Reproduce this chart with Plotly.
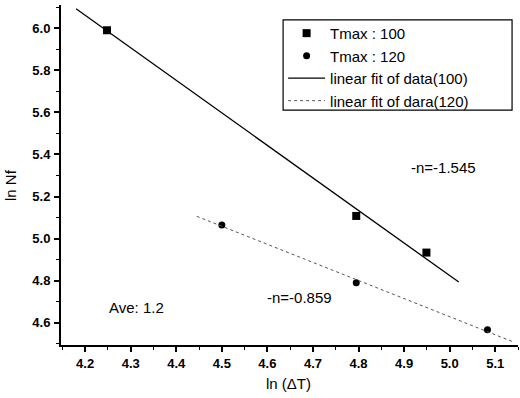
import numpy as np
import plotly.graph_objects as go

# ln(ΔT) and ln(Nf) for the two peak temperatures
x_t100 = [4.248, 4.795, 4.949]
y_t100 = [5.990, 5.108, 4.934]
x_t120 = [4.500, 4.795, 5.083]
y_t120 = [5.065, 4.791, 4.567]

# fitted slopes (Coffin-Manson exponent) and the x-span of each fit line
slope_t100 = -1.545
slope_t120 = -0.859
fit_span_t100 = [4.18, 5.02]
fit_span_t120 = [4.445, 5.14]

x_ticks = [4.2, 4.3, 4.4, 4.5, 4.6, 4.7, 4.8, 4.9, 5.0, 5.1]
y_ticks = [4.6, 4.8, 5.0, 5.2, 5.4, 5.6, 5.8, 6.0]


def fit_line(xs, ys, slope, span):
    xm, ym = np.mean(xs), np.mean(ys)
    fx = np.array(span)
    return fx, ym + slope * (fx - xm)


fx100, fy100 = fit_line(x_t100, y_t100, slope_t100, fit_span_t100)
fx120, fy120 = fit_line(x_t120, y_t120, slope_t120, fit_span_t120)

FONT = "Liberation Sans, Arial, sans-serif"

fig = go.Figure()
fig.add_trace(go.Scatter(x=x_t100, y=y_t100, mode="markers", name="Tmax : 100",
                         marker=dict(symbol="square", size=8, color="black")))
fig.add_trace(go.Scatter(x=x_t120, y=y_t120, mode="markers", name="Tmax : 120",
                         marker=dict(symbol="circle", size=7, color="black")))
fig.add_trace(go.Scatter(x=fx100, y=fy100, mode="lines", name="linear fit of data(100)",
                         line=dict(color="black", width=1.3)))
fig.add_trace(go.Scatter(x=fx120, y=fy120, mode="lines", name="linear fit of dara(120)",
                         line=dict(color="#555555", width=1, dash="dot")))

axis_common = dict(
    showline=True, linecolor="black", linewidth=2,
    ticks="outside", ticklen=5, tickwidth=1.5, tickcolor="black",
    showgrid=False, zeroline=False, mirror=False,
    tickfont=dict(family=FONT, size=13, color="black"),
)

fig.update_xaxes(range=[4.147, 5.15], tickvals=x_ticks,
                 ticktext=[f"<b>{v:.1f}</b>" for v in x_ticks],
                 minor=dict(ticks="outside", ticklen=3, tickwidth=1, tickcolor="black",
                            dtick=0.05, tick0=4.15, showgrid=False),
                 ticklabelstandoff=0, **axis_common)
fig.update_yaxes(range=[4.495, 6.11], tickvals=y_ticks,
                 ticktext=[f"<b>{v:.1f}</b>" for v in y_ticks],
                 minor=dict(ticks="outside", ticklen=3, tickwidth=1, tickcolor="black",
                            dtick=0.1, tick0=4.5, showgrid=False),
                 ticklabelstandoff=1, **axis_common)

text_font = dict(family=FONT, size=15, color="black")
fig.add_annotation(x=4.987, y=5.34, text="-n=-1.545", showarrow=False, font=text_font)
fig.add_annotation(x=4.671, y=4.723, text="-n=-0.859", showarrow=False, font=text_font)
fig.add_annotation(x=4.313, y=4.671, text="Ave: 1.2", showarrow=False, font=text_font)

# axis titles
fig.add_annotation(xref="paper", yref="paper", x=0.497, y=-0.112, text="ln (ΔT)",
                   xanchor="center", yanchor="middle",
                   showarrow=False, font=dict(family=FONT, size=15, color="black"))
fig.add_annotation(xref="paper", yref="paper", x=-0.112, y=0.47, text="ln Nf", textangle=-90,
                   xanchor="center", yanchor="middle",
                   showarrow=False, font=dict(family=FONT, size=15, color="black"))

# legend frame
fig.add_shape(type="rect", xref="paper", yref="paper",
              x0=0.486, x1=0.987, y0=0.691, y1=0.956,
              line=dict(color="black", width=1.2), fillcolor="rgba(0,0,0,0)", layer="above")

fig.update_layout(
    width=520, height=398,
    margin=dict(l=61, r=2, t=5, b=53),
    paper_bgcolor="white", plot_bgcolor="white",
    showlegend=True,
    legend=dict(x=0.486, y=0.965, xanchor="left", yanchor="top",
                borderwidth=0, bgcolor="rgba(0,0,0,0)",
                font=dict(family=FONT, size=15, color="black"),
                itemwidth=37, tracegroupgap=0),
)

fig.write_html("out.html")
